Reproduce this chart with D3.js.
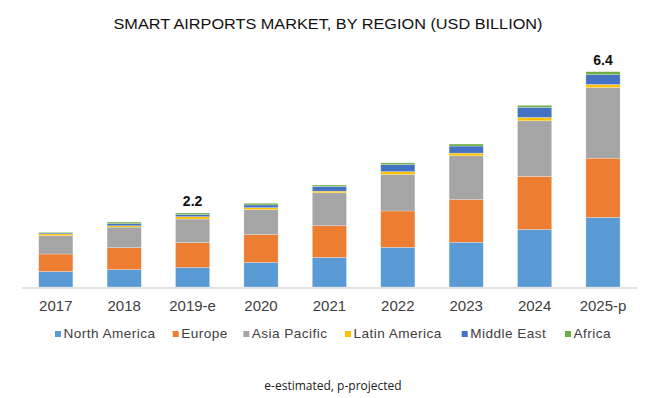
<!DOCTYPE html>
<html>
<head>
<meta charset="utf-8">
<script src="https://cdn.jsdelivr.net/npm/d3@7/dist/d3.min.js"></script>
<style>
  html, body { margin: 0; padding: 0; background: #fff; }
  svg { display: block; }
</style>
</head>
<body>
<svg id="chart" width="650" height="398"></svg>
<script>
// ---- Data ----
const years = ["2017", "2018", "2019-e", "2020", "2021", "2022", "2023", "2024", "2025-p"];
const regions = ["North America", "Europe", "Asia Pacific", "Latin America", "Middle East", "Africa"];
const northAmerica = [0.46, 0.52, 0.58, 0.73, 0.88, 1.18, 1.33, 1.71, 2.07];
const europe       = [0.52, 0.65, 0.74, 0.83, 0.94, 1.08, 1.27, 1.58, 1.76];
const asiaPacific  = [0.55, 0.61, 0.70, 0.74, 0.98, 1.09, 1.30, 1.65, 2.10];
const latinAmerica = [0.05, 0.04, 0.07, 0.06, 0.05, 0.08, 0.08, 0.10, 0.09];
const middleEast   = [0.03, 0.06, 0.06, 0.08, 0.14, 0.21, 0.21, 0.30, 0.29];
const africa       = [0.02, 0.05, 0.05, 0.05, 0.04, 0.05, 0.06, 0.06, 0.09];
const totalLabels  = [{ year: "2019-e", text: "2.2" }, { year: "2025-p", text: "6.4" }];
const colors = ["#5B9BD5", "#ED7D31", "#A5A5A5", "#FFC000", "#4472C4", "#70AD47"];

const seriesValues = [northAmerica, europe, asiaPacific, latinAmerica, middleEast, africa];
const table = years.map((y, i) => {
  const row = { year: y };
  regions.forEach((r, k) => { row[r] = seriesValues[k][i]; });
  return row;
});

// ---- Layout ----
const svg = d3.select("#chart");
const baseY = 287;

const x = d3.scaleBand().domain(years).range([21.6, 637.2]).paddingInner(0.5).paddingOuter(0.25);
const y = d3.scaleLinear().domain([0, 6.4]).range([baseY, 71.7]);
const color = d3.scaleOrdinal().domain(regions).range(colors);

const stacked = d3.stack().keys(regions)(table);

// Title
svg.append("text")
  .attr("x", 328).attr("y", 29)
  .attr("text-anchor", "middle")
  .attr("font-family", "Liberation Sans, Arial, sans-serif")
  .attr("font-size", 15.5)
  .attr("fill", "#111")
  .attr("textLength", 429)
  .attr("lengthAdjust", "spacingAndGlyphs")
  .text("SMART AIRPORTS MARKET, BY REGION (USD BILLION)");

// Bars
const gBars = svg.append("g");
gBars.selectAll("g.series")
  .data(stacked)
  .join("g")
  .attr("class", "series")
  .attr("fill", d => color(d.key))
  .selectAll("rect")
  .data(d => d)
  .join("rect")
  .attr("x", d => x(d.data.year))
  .attr("width", x.bandwidth())
  .attr("y", d => y(d[1]))
  .attr("height", d => Math.max(0, y(d[0]) - y(d[1])))
  .attr("stroke", "#ffffff")
  .attr("stroke-width", 0.5)
  .attr("stroke-opacity", 0.5);

// X axis
const xAxis = svg.append("g")
  .attr("transform", `translate(0,${baseY + 0.5})`)
  .call(d3.axisBottom(x).tickSize(0).tickPadding(13));
xAxis.select(".domain").attr("stroke", "#D9D9D9").attr("stroke-width", 1.3);
xAxis.selectAll("text")
  .attr("font-family", "Liberation Sans, Arial, sans-serif")
  .attr("font-size", 15)
  .attr("fill", "#404040");

// Total labels
svg.append("g").selectAll("text")
  .data(totalLabels)
  .join("text")
  .attr("x", d => x(d.year) + x.bandwidth() / 2)
  .attr("y", d => {
    const i = years.indexOf(d.year);
    return y(d3.sum(seriesValues, s => s[i])) - 6.5;
  })
  .attr("text-anchor", "middle")
  .attr("font-family", "Liberation Sans, Arial, sans-serif")
  .attr("font-weight", "bold")
  .attr("font-size", 14)
  .attr("fill", "#111")
  .text(d => d.text);

// Legend
const legendX = [55, 172.7, 243.3, 345, 461.7, 565];
const legend = svg.append("g");
const items = legend.selectAll("g").data(regions).join("g")
  .attr("transform", (d, i) => `translate(${legendX[i]},331)`);
items.append("rect").attr("width", 6).attr("height", 6).attr("fill", d => color(d));
items.append("text")
  .attr("x", 8.5).attr("y", 7.3)
  .attr("font-family", "Liberation Sans, Arial, sans-serif")
  .attr("font-size", 13.6)
  .attr("letter-spacing", 0.45)
  .attr("fill", "#404040")
  .text(d => d);

// Footnote
svg.append("text")
  .attr("x", 333).attr("y", 390)
  .attr("text-anchor", "middle")
  .attr("font-family", "Open Sans, Liberation Sans, sans-serif")
  .attr("font-size", 12)
  .attr("fill", "#222")
  .text("e-estimated, p-projected");
</script>
</body>
</html>
